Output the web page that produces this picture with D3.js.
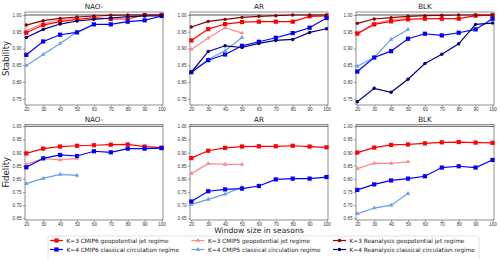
<!DOCTYPE html>
<html>
<head>
<meta charset="utf-8">
<script src="https://cdn.jsdelivr.net/npm/d3@7"></script>
<style>
  html, body { margin: 0; padding: 0; background: #fff; }
  svg { display: block; font-family: "DejaVu Sans", sans-serif; }
</style>
</head>
<body>
<svg id="chart" width="500" height="259"></svg>
<script>
"use strict";

// window sizes (seasons)
const windows = [20, 30, 40, 50, 60, 70, 80, 90, 100];
const windowsShort = [20, 30, 40, 50];
const regimes = ["NAO-", "AR", "BLK"];

// stability
const naoStabK3Cmip6 = [0.947, 0.970, 0.980, 0.987, 0.992, 0.988, 0.988, 1.000, 1.000];
const naoStabK3Cmip5 = [0.953, 0.975, 0.985, 0.991];
const naoStabK3Rean  = [0.970, 0.983, 0.990, 0.994, 0.997, 0.999, 1.000, 1.000, 1.000];
const naoStabK4Cmip6 = [0.881, 0.921, 0.941, 0.948, 0.972, 0.972, 0.980, 0.984, 0.997];
const naoStabK4Cmip5 = [0.849, 0.882, 0.915, 0.949];
const naoStabK4Rean  = [0.933, 0.957, 0.973, 0.982, 0.987, 0.991, 0.995, 0.997, 0.997];

const arStabK3Cmip6 = [0.924, 0.958, 0.973, 0.979, 0.980, 0.980, 0.980, 0.996, 0.997];
const arStabK3Cmip5 = [0.897, 0.931, 0.962, 0.946];
const arStabK3Rean  = [0.964, 0.981, 0.987, 0.993, 0.996, 0.998, 1.000, 1.000, 1.000];
const arStabK4Cmip6 = [0.829, 0.865, 0.882, 0.908, 0.920, 0.932, 0.946, 0.962, 0.991];
const arStabK4Cmip5 = [0.829, 0.867, 0.893, 0.933];
const arStabK4Rean  = [0.829, 0.891, 0.908, 0.903, 0.915, 0.924, 0.927, 0.948, 0.959];

const blkStabK3Cmip6 = [0.945, 0.972, 0.981, 0.987, 0.989, 0.989, 0.989, 0.998, 0.999];
const blkStabK3Cmip5 = [0.941, 0.975, 0.985, 0.990];
const blkStabK3Rean  = [0.975, 0.988, 0.992, 0.996, 0.998, 0.999, 1.000, 1.000, 1.000];
const blkStabK4Cmip6 = [0.831, 0.873, 0.892, 0.929, 0.944, 0.939, 0.947, 0.957, 0.989];
const blkStabK4Cmip5 = [0.847, 0.873, 0.927, 0.957];
const blkStabK4Rean  = [0.741, 0.781, 0.769, 0.808, 0.855, 0.883, 0.914, 0.972, 0.976];

// fidelity
const naoFidK3Cmip6 = [0.897, 0.915, 0.923, 0.926, 0.928, 0.930, 0.931, 0.923, 0.919];
const naoFidK3Cmip5 = [0.855, 0.877, 0.872, 0.878];
const naoFidK4Cmip6 = [0.844, 0.878, 0.891, 0.887, 0.905, 0.901, 0.915, 0.915, 0.917];
const naoFidK4Cmip5 = [0.782, 0.802, 0.817, 0.813];

const arFidK3Cmip6 = [0.879, 0.907, 0.918, 0.923, 0.924, 0.924, 0.926, 0.923, 0.920];
const arFidK3Cmip5 = [0.820, 0.858, 0.855, 0.855];
const arFidK4Cmip6 = [0.714, 0.753, 0.760, 0.763, 0.773, 0.798, 0.801, 0.801, 0.807];
const arFidK4Cmip5 = [0.703, 0.722, 0.742, 0.769];

const blkFidK3Cmip6 = [0.900, 0.919, 0.929, 0.931, 0.935, 0.939, 0.940, 0.938, 0.937];
const blkFidK3Cmip5 = [0.839, 0.860, 0.859, 0.865];
const blkFidK4Cmip6 = [0.758, 0.779, 0.794, 0.801, 0.810, 0.843, 0.848, 0.843, 0.872];
const blkFidK4Cmip5 = [0.667, 0.689, 0.700, 0.744];

const stabTicks = [0.75, 0.80, 0.85, 0.90, 0.95, 1.00];
const fidTicks = [0.65, 0.70, 0.75, 0.80, 0.85, 0.90, 0.95, 1.00];
const xTicks = [20, 30, 40, 50, 60, 70, 80, 90, 100];

const SERIES = {
  k3cmip6: { label: "K=3 CMIP6 geopotential jet regime",   color: "#ff0000", marker: "square",   size: 4.2, order: 4 },
  k4cmip6: { label: "K=4 CMIP6 classical circulation regime", color: "#0000ff", marker: "square", size: 4.2, order: 5 },
  k3cmip5: { label: "K=3 CMIP5 geopotential jet regime",   color: "#ff8a8a", marker: "triangle", size: 3.4, order: 2 },
  k4cmip5: { label: "K=4 CMIP5 classical circulation regime", color: "#6b9cf0", marker: "triangle", size: 3.4, order: 3 },
  k3rean:  { label: "K=3 Reanalysis geopotential jet regime", color: "#8b0000", marker: "circle", size: 3.4, order: 6 },
  k4rean:  { label: "K=4 Reanalysis classical circulation regime", color: "#000080", marker: "circle", size: 3.4, order: 7 }
};

const topPanels = [
  { k3cmip6: naoStabK3Cmip6, k3cmip5: naoStabK3Cmip5, k3rean: naoStabK3Rean, k4cmip6: naoStabK4Cmip6, k4cmip5: naoStabK4Cmip5, k4rean: naoStabK4Rean },
  { k3cmip6: arStabK3Cmip6,  k3cmip5: arStabK3Cmip5,  k3rean: arStabK3Rean,  k4cmip6: arStabK4Cmip6,  k4cmip5: arStabK4Cmip5,  k4rean: arStabK4Rean },
  { k3cmip6: blkStabK3Cmip6, k3cmip5: blkStabK3Cmip5, k3rean: blkStabK3Rean, k4cmip6: blkStabK4Cmip6, k4cmip5: blkStabK4Cmip5, k4rean: blkStabK4Rean }
];
const bottomPanels = [
  { k3cmip6: naoFidK3Cmip6, k3cmip5: naoFidK3Cmip5, k4cmip6: naoFidK4Cmip6, k4cmip5: naoFidK4Cmip5 },
  { k3cmip6: arFidK3Cmip6,  k3cmip5: arFidK3Cmip5,  k4cmip6: arFidK4Cmip6,  k4cmip5: arFidK4Cmip5 },
  { k3cmip6: blkFidK3Cmip6, k3cmip5: blkFidK3Cmip5, k4cmip6: blkFidK4Cmip6, k4cmip5: blkFidK4Cmip5 }
];

const svg = d3.select("#chart");
const colX = [[25, 163], [190, 328], [356, 494]];
const rows = [
  { top: 12, bottom: 105, ticks: stabTicks, y0: 98.7, y1: 15, lo: 0.75, label: "Stability", panels: topPanels },
  { top: 124.5, bottom: 220, ticks: fidTicks, y0: 218.3, y1: 126.3, lo: 0.65, label: "Fidelity", panels: bottomPanels }
];

function markerPath(type, s) {
  if (type === "square") return d3.symbol(d3.symbolSquare, s * s)();
  if (type === "triangle") return d3.symbol(d3.symbolTriangle, s * s * 0.75)();
  return d3.symbol(d3.symbolCircle, s * s * 0.8)();
}

rows.forEach(function(row) {
  row.panels.forEach(function(panel, ci) {
    const [left, right] = colX[ci];
    const x = d3.scaleLinear().domain([20, 100]).range([left + 1.3, right - 1.5]);
    const y = d3.scaleLinear().domain([row.lo, 1.0]).range([row.y0, row.y1]);
    const g = svg.append("g");

    // frame
    g.append("rect")
      .attr("x", left).attr("y", row.top)
      .attr("width", right - left).attr("height", row.bottom - row.top)
      .attr("fill", "none").attr("stroke", "#444").attr("stroke-width", 0.6);

    // axes
    const yAxis = d3.axisLeft(y).tickValues(row.ticks).tickFormat(d3.format(".2f")).tickSize(2).tickPadding(1.5);
    const ya = g.append("g").attr("transform", "translate(" + left + ",0)").call(yAxis);
    const xAxis = d3.axisBottom(x).tickValues(xTicks).tickFormat(d3.format("d")).tickSize(2).tickPadding(1.2);
    const xa = g.append("g").attr("transform", "translate(0," + row.bottom + ")").call(xAxis);
    [ya, xa].forEach(function(a) {
      a.select(".domain").remove();
      a.selectAll("line").attr("stroke", "#444").attr("stroke-width", 0.5);
      a.selectAll("text").attr("font-size", 4.6).attr("fill", "#333");
    });

    // reference line at 1.00
    g.append("line")
      .attr("x1", left).attr("x2", right)
      .attr("y1", y(1.0)).attr("y2", y(1.0))
      .attr("stroke", "#555").attr("stroke-width", 1);

    // title
    g.append("text")
      .attr("x", (left + right) / 2).attr("y", row.top - 3)
      .attr("text-anchor", "middle").attr("font-size", 7.2).attr("fill", "#222")
      .text(regimes[ci]);

    const keys = Object.keys(panel).sort(function(a, b) { return SERIES[a].order - SERIES[b].order; });
    keys.forEach(function(key) {
      const st = SERIES[key];
      const vals = panel[key];
      const xs = vals.length === windows.length ? windows : windowsShort;
      const pts = vals.map(function(v, i) { return [xs[i], v]; });
      const line = d3.line().x(function(d) { return x(d[0]); }).y(function(d) { return y(d[1]); });
      g.append("path").datum(pts)
        .attr("d", line).attr("fill", "none")
        .attr("stroke", st.color).attr("stroke-width", 1.2);
      g.selectAll(null).data(pts).enter().append("path")
        .attr("transform", function(d) { return "translate(" + x(d[0]) + "," + y(d[1]) + ")"; })
        .attr("d", markerPath(st.marker, st.size))
        .attr("fill", st.color);
    });
  });

  // row y label
  const cy = (row.top + row.bottom) / 2;
  svg.append("text")
    .attr("transform", "translate(9," + cy + ") rotate(-90)")
    .attr("text-anchor", "middle").attr("font-size", 8.6).attr("fill", "#222")
    .text(row.label);
});

// x label
svg.append("text")
  .attr("x", 259).attr("y", 233)
  .attr("text-anchor", "middle").attr("font-size", 7.6).attr("fill", "#222")
  .text("Window size in seasons");

// legend
const legend = svg.append("g");
legend.append("rect")
  .attr("x", 48).attr("y", 236).attr("width", 431).attr("height", 26)
  .attr("rx", 2).attr("fill", "#fff").attr("stroke", "#ccc").attr("stroke-width", 0.6);

const legendCols = [
  { x: 50, keys: ["k3cmip6", "k4cmip6"] },
  { x: 191.5, keys: ["k3cmip5", "k4cmip5"] },
  { x: 333, keys: ["k3rean", "k4rean"] }
];
legendCols.forEach(function(col) {
  col.keys.forEach(function(key, ri) {
    const st = SERIES[key];
    const ly = 240.5 + ri * 9;
    legend.append("line")
      .attr("x1", col.x).attr("x2", col.x + 13)
      .attr("y1", ly).attr("y2", ly)
      .attr("stroke", st.color).attr("stroke-width", 1.2);
    legend.append("path")
      .attr("transform", "translate(" + (col.x + 6.5) + "," + ly + ")")
      .attr("d", markerPath(st.marker, st.size))
      .attr("fill", st.color);
    legend.append("text")
      .attr("x", col.x + 16.5).attr("y", ly + 2.1)
      .attr("font-size", 5.8).attr("fill", "#222")
      .text(st.label);
  });
});
</script>
</body>
</html>
